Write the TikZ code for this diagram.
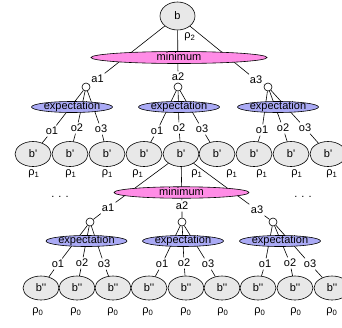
\documentclass[tikz,border=0pt]{standalone}
\usepackage{fontspec}
\setmainfont{Liberation Sans}
\usepackage{xcolor}
\usetikzlibrary{shapes.geometric}
\definecolor{beliefgray}{HTML}{E8E8E8}
\definecolor{minpink}{HTML}{FF8CE6}
\definecolor{explav}{HTML}{AAAAF5}

\begin{document}
\begin{tikzpicture}[x=1pt, y=-1pt, line width=0.6pt, font=\fontsize{11}{13}\selectfont,
		belief/.style={ellipse, draw, fill=beliefgray, minimum width=36pt, minimum height=25pt, inner sep=0pt},
		minnode/.style={ellipse, draw, fill=minpink, minimum height=12pt, inner sep=0pt, text height=6pt, text depth=1pt},
		expnode/.style={ellipse, draw, fill=explav, minimum width=81pt, minimum height=11pt, inner sep=0pt, text height=6pt, text depth=1pt},
		act/.style={circle, draw, fill=white, minimum size=8pt, inner sep=0pt},
		lbl/.style={inner sep=1.5pt}]
			\useasboundingbox (0,0) rectangle (342,327);
			% root belief
			\node[belief, minimum width=35pt, minimum height=28pt] (b) at (177.5,16) {b};
			\node[lbl] (rho2) at (190,37) {ρ\textsubscript{2}};
			% first level actions
			\foreach \x/\y/\lx/\ly [count=\i] in {86/87/97.5/79, 178/87/178/77, 268/87/256/80}{
				\node[act] (ca\i) at (\x,\y) {};
				\node[lbl] (la\i) at (\lx,\ly) {a\i};
			}
			% first level beliefs
			\foreach \x/\rx [count=\i] in {33/34, 70/71, 107/107.5, 144/138, 181/197, 217/232, 254/262, 291/297, 328/332}{
				\node[belief] (bp\i) at (\x,154) {b\textquotesingle};
				\node[lbl] (rb\i) at (\rx,174) {ρ\textsubscript{1}};
			}
			\foreach \x/\y [count=\i] in {52/131, 77/128, 101/129, 157/131, 179/128, 202/129, 262/130, 283/128, 305/128}{
				\pgfmathtruncatemacro\k{mod(\i-1,3)+1}
				\node[lbl] (lo\i) at (\x,\y) {o\k};
			}
			% second level actions
			\foreach \x/\y/\lx/\ly [count=\i] in {90/222/108/208, 182/222/182/206, 273/222/257/210}{
				\node[act] (cb\i) at (\x,\y) {};
				\node[lbl] (lb\i) at (\lx,\ly) {a\i};
			}
			% second level beliefs
			\foreach \x/\rx [count=\i] in {41/38, 77/76, 113/113, 149/148, 186/186, 222/223, 258/260, 295/296, 332/332}{
				\node[belief, minimum height=24pt] (bq\i) at (\x,288) {b\textquotesingle\textquotesingle};
				\node[lbl] (rc\i) at (\rx,312) {ρ\textsubscript{0}};
			}
			\foreach \x/\y [count=\i] in {58/264, 82/263, 104/264, 162/264, 184/263, 208/264, 265/264, 290/263, 310/264}{
				\pgfmathtruncatemacro\k{mod(\i-1,3)+1}
				\node[lbl] (lq\i) at (\x,\y) {o\k};
			}
			% connectors
			\foreach \i in {1,2,3}{
				\draw (b) -- (la\i) -- (ca\i);
				\draw (bp5) -- (lb\i) -- (cb\i);
			}
			\foreach \i in {1,...,9}{
				\pgfmathtruncatemacro\j{(\i+2)/3}
				\draw (ca\j) -- (lo\i) -- (bp\i);
				\draw (cb\j) -- (lq\i) -- (bq\i);
			}
			% operator ellipses on top
			\node[minnode, minimum width=176pt] (min1) at (179,57.5) {minimum};
			\node[expnode] (exp1) at (72,107) {expectation};
			\node[expnode] (exp2) at (179,107) {expectation};
			\node[expnode] (exp3) at (278,107) {expectation};
			\node[minnode, minimum width=135pt, minimum height=11.5pt] (min2) at (181.5,192.5) {minimum};
			\node[expnode] (exp4) at (86.5,241) {expectation};
			\node[expnode] (exp5) at (183,241) {expectation};
			\node[expnode] (exp6) at (280,241) {expectation};
			\node (dots1) at (60,197) {.\kern4pt.\kern4pt.};
			\node (dots2) at (303,197) {.\kern4pt.\kern4pt.};
\end{tikzpicture}
\end{document}
